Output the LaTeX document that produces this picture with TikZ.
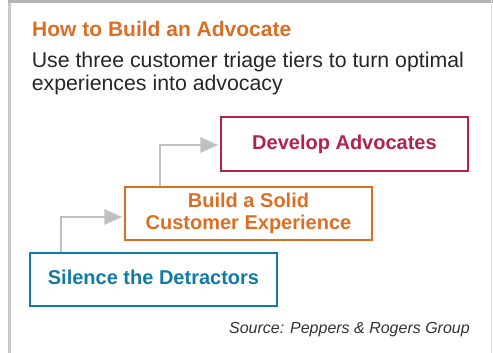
\documentclass[tikz,border=0pt]{standalone}
\usepackage{fontspec}
\setmainfont{Liberation Sans}
\usetikzlibrary{arrows.meta}
\definecolor{tierred}{RGB}{178,34,74}
\definecolor{tierorange}{RGB}{220,110,36}
\definecolor{tierblue}{RGB}{16,122,168}
\definecolor{stepgray}{RGB}{192,192,196}
\definecolor{framegray}{RGB}{200,200,202}

\tikzset{
    tier/.style={
        draw,
        line width=2.4pt,
        minimum width=247pt,
        minimum height=53.5pt,
        inner sep=0pt,
        align=center,
        font=\fontsize{20}{22}\selectfont\bfseries
    },
    stepline/.style={
        line width=2.6pt,
        stepgray,
        -{Triangle[length=18pt,width=15pt]},
        shorten >=1.5pt
    }
}

\begin{document}
\begin{tikzpicture}[x=1pt, y=-1pt]

    \useasboundingbox (0,0) rectangle (493,353);

    % frame
    \fill[framegray] (8,0) rectangle (11,353);
    \fill[framegray!90!black] (8,0) rectangle (493,2.6);
    \draw[line width=1pt, framegray!60] (491,0) -- (491,353);

    % heading
    \node[
        anchor=base west,
        inner sep=0pt,
        tierorange,
        font=\fontsize{21}{24}\selectfont\bfseries
    ] (title) at (32,36.7) {How to Build an Advocate};

    % base of a two-line node sits on its last line
    \node[
        anchor=base west,
        inner sep=0pt,
        align=left,
        text=black!85,
        font=\fontsize{21.3}{22.5}\selectfont
    ] (subtitle) at (31.6,90.5) {Use three customer triage tiers to turn optimal\\experiences into advocacy};

    % the three tiers
    \node[tier, tierred] (advocates) at (344.5,144) {Develop Advocates};
    \node[tier, tierorange] (experience) at (248.5,213.5) {Build a Solid\\Customer Experience};
    \node[tier, tierblue, text height=14pt, text depth=4pt] (detractors) at (153.5,279.5) {Silence the Detractors};

    \draw[stepline] (detractors.north -| 61,0) |- (experience.west |- 0,217);
    \draw[stepline] (experience.north -| 160,0) |- (advocates.west |- 0,145);

    \node[
        anchor=base east,
        inner sep=0pt,
        text=black!80,
        font=\fontsize{16}{18}\selectfont\itshape
    ] (source) at (470,333) {Source: Peppers \& Rogers Group};

\end{tikzpicture}
\end{document}
